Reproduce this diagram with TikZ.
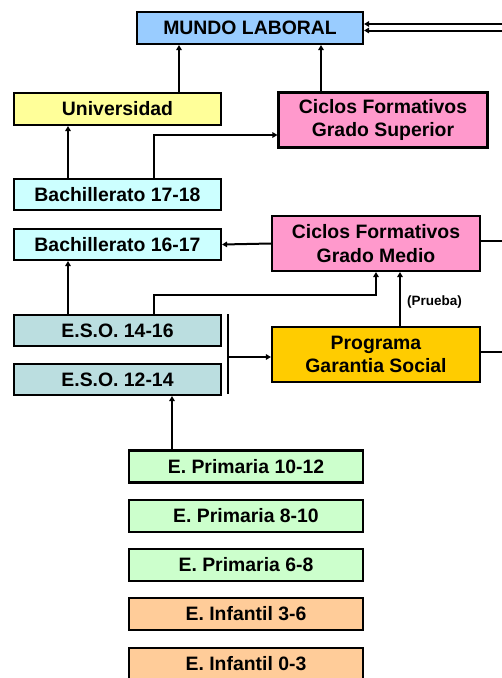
\documentclass[tikz,border=0pt]{standalone}
\usepackage{fontspec}
\setmainfont{Liberation Sans}
\usetikzlibrary{arrows.meta,calc}
\definecolor{cMundo}{HTML}{99CCFF}
\definecolor{cUniv}{HTML}{FFFF99}
\definecolor{cCiclo}{HTML}{FF99CC}
\definecolor{cBach}{HTML}{CCFFFF}
\definecolor{cEso}{HTML}{BBDEE0}
\definecolor{cPgs}{HTML}{FFCC00}
\definecolor{cPrim}{HTML}{CCFFCC}
\definecolor{cInf}{HTML}{FFCC99}
\begin{document}
\begin{tikzpicture}[x=1pt,y=-1pt,
  box/.style={draw=black,line width=2.1pt,inner sep=0pt,align=center,
    font=\fontsize{19.4}{23.5}\selectfont\bfseries},
  smallbox/.style={box,minimum width=207pt,minimum height=31pt},
  bigbox/.style={box,minimum width=208pt,minimum height=55pt},
  lowbox/.style={box,minimum width=234pt,minimum height=32pt},
  conn/.style={line width=2pt},
  arr/.style={conn,-{Triangle[length=5pt,width=5.5pt]}}]
\useasboundingbox (0,0) rectangle (502,678);
\clip (0,0) rectangle (502,678);
% nodes
\node[box,fill=cMundo,minimum width=226pt,minimum height=32pt] (mundo) at (250,28) {MUNDO LABORAL};
\node[smallbox,fill=cUniv,minimum height=32pt] (univ) at (117.5,109) {Universidad};
\node[box,fill=cCiclo,minimum width=209pt,minimum height=55pt] (cfgs) at (383,120) {Ciclos Formativos\\Grado Superior};
\node[smallbox,fill=cBach] (b1718) at (117.5,194.5) {Bachillerato 17-18};
\node[smallbox,fill=cBach] (b1617) at (117.5,244.5) {Bachillerato 16-17};
\node[bigbox,fill=cCiclo] (cfgm) at (376,243.5) {Ciclos Formativos\\Grado Medio};
\node[smallbox,fill=cEso] (eso1416) at (117.5,330.5) {E.S.O. 14-16};
\node[smallbox,fill=cEso] (eso1214) at (117.5,379.5) {E.S.O. 12-14};
\node[bigbox,fill=cPgs] (pgs) at (376,354.5) {Programa\\Garantia Social};
\node[lowbox,fill=cPrim] (p1012) at (246,466.5) {E. Primaria 10-12};
\node[lowbox,fill=cPrim] (p810) at (246,516) {E. Primaria 8-10};
\node[lowbox,fill=cPrim] (p68) at (246,565) {E. Primaria 6-8};
\node[lowbox,fill=cInf] (i36) at (246,614) {E. Infantil 3-6};
\node[lowbox,fill=cInf] (i03) at (246,664) {E. Infantil 0-3};
\node[font=\fontsize{13.5}{15}\selectfont\bfseries] (prueba) at (434.5,302) {(Prueba)};
% helper coordinates
\coordinate (xU) at (179,0);
\coordinate (xS) at (321,0);
\coordinate (xL) at (68,0);
\coordinate (xM) at (154,0);
\coordinate (xP) at (400,0);
\coordinate (xE) at (172,0);
\coordinate (c295) at (376,295);
\coordinate (brT) at (228,314);
\coordinate (brB) at (228,394);
\coordinate (rA) at (510,0);
\coordinate (rB) at (516,0);
% connectors
\draw[arr] (univ.north -| xU) -- (mundo.south -| xU);
\draw[arr] (cfgs.north -| xS) -- (mundo.south -| xS);
\draw[arr] (b1718.north -| xL) -- (univ.south -| xL);
\draw[arr] (b1718.north -| xM) |- ([yshift=-15pt]cfgs.west);
\draw[arr] (cfgm.west) -- (b1617.east);
\draw[arr] (eso1416.north -| xL) -- (b1617.south -| xL);
\draw[arr] (eso1416.north -| xM) |- (c295) -- (cfgm.south);
\draw[arr] (pgs.north -| xP) -- (cfgm.south -| xP);
\draw[conn] (brT) -- (brB);
\draw[arr] ([yshift=-2.5pt]pgs.west -| brT) -- ([yshift=-2.5pt]pgs.west);
\draw[arr] (p1012.north -| xE) -- (eso1214.south -| xE);
\draw[arr] ([yshift=3pt]cfgm.east) -| ([yshift=-2.5pt]mundo.east -| rA) -- ([yshift=-2.5pt]mundo.east);
\draw[arr] ([yshift=2.5pt]pgs.east) -| ([yshift=4pt]mundo.east -| rB) -- ([yshift=4pt]mundo.east);
\end{tikzpicture}
\end{document}
